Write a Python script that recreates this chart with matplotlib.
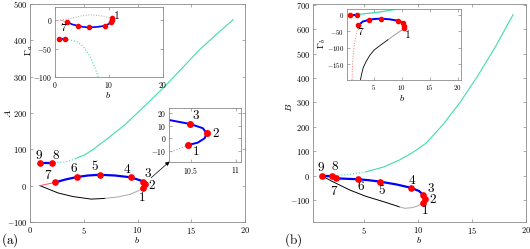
import matplotlib
matplotlib.use("Agg")
from matplotlib import pyplot as plt
from matplotlib.ticker import FuncFormatter

plt.rcParams['mathtext.fontset'] = 'cm'
plt.rcParams['font.family'] = 'DejaVu Serif'

# ---------------- data ----------------
# panel (a): A versus b
blue_a_b = [2.33, 3.3, 4.4, 5.4, 6.48, 7.9, 9.37, 10.26, 10.497, 10.637, 10.678, 10.656, 10.58, 10.474]
blue_a_A = [9, 17, 24, 28, 30, 28, 23, 14.6, 11.4, 8, 4, 0, -3.5, -5.4]
pts_a_b = [10.474, 10.678, 10.497, 9.37, 6.48, 4.4, 2.33, 2.0, 0.93]   # points 1..9
pts_a_A = [-5.4, 4, 11.4, 23, 30, 24, 9, 63, 63]
black_a_b = [0.93, 1.6, 2.6, 4.0, 5.7, 7.0, 8.2, 9.3, 10.26, 10.474]
black_a_A = [0, -8, -20, -30, -37, -35, -31, -24, -11.5, -5.4]
red_a_b = [0.93, 2.33]
red_a_A = [0, 9]
cyan_a_b = [2.0, 2.8, 3.56, 4.3, 5.1, 5.9, 6.67, 7.1, 8.84, 10.7, 12.6, 14.2, 15.8, 17.4, 18.9]
cyan_a_A = [63, 64, 67, 75, 85, 100, 118, 127, 168, 220, 275, 325, 375, 418, 457]

# inset of (a): Gamma_a versus b
g_blue_b = [2.15, 3.2, 4.2, 5.2, 6.3, 7.8, 9.26, 10.3, 10.45, 10.62, 10.5]
g_blue_G = [-3.5, -7.5, -10, -12, -12.8, -12, -10, -5, -3, 0.5, 3]
g_pts_b = [10.5, 10.62, 10.45, 9.26, 6.3, 4.2, 2.15]   # points 1..7
g_pts_G = [3, 0.5, -3, -10, -12.8, -10, -3.5]
g_gray_b = [1.0, 2.5, 4.66, 6.5, 8.95, 10.2, 10.5]
g_gray_G = [0, 2, 7, 9.3, 7, 3.5, 3]
g_red_b = [0.98, 2.15]
g_red_G = [0, -3.5]
g_pair_b = [0.8, 1.9]
g_pair_G = [-33.7, -33.7]
g_cyan_b = [1.9, 2.8, 4.05, 5.27, 6.5, 7.42, 8.03, 8.5]
g_cyan_G = [-33.7, -35, -37.8, -46.6, -64, -84.4, -100, -115]

# panel (b): B versus b
blue_b_b = [2.4, 3.4, 4.47, 5.5, 6.47, 8.0, 9.38, 10.1, 10.5, 10.65, 10.7, 10.6, 10.45]
blue_b_B = [-11, -13, -15, -19, -24.5, -36, -50, -63, -79, -88, -97, -106, -113]
pts_b_b = [10.45, 10.7, 10.5, 9.38, 6.47, 4.47, 2.4, 2.1, 1.1]
pts_b_B = [-113, -97, -79, -50, -24.5, -15, -11, 0, 0]
black_b_b = [1.1, 2.0, 3.7, 5.2, 6.77, 8.3, 8.8, 9.5, 10.0, 10.45]
black_b_B = [0, -22, -59, -85, -106, -128, -134, -131, -124, -113]
red_b_b = [1.1, 2.4]
red_b_B = [0, -11]
cyan_b_b = [2.1, 3.5, 5.24, 6.8, 8.3, 9.6, 10.76, 12.3, 13.9, 15.5, 17.2, 18.8]
cyan_b_B = [0, 4, 16, 35, 64, 97, 133, 208, 300, 406, 530, 659]

# inset of (b): Gamma_b versus b
h_blue_b = [2.25, 3.0, 4.2, 5.2, 6.3, 7.8, 9.3, 10.2, 10.4, 10.4]
h_blue_G = [-32.4, -21, -15.2, -13, -12.2, -14, -18.2, -25, -33.4, -40.5]
h_pts_b = [10.4, 10.4, 10.2, 9.3, 6.3, 4.2, 2.25, 2.0, 0.81]
h_pts_G = [-40.5, -33.4, -25, -18.2, -12.2, -15.2, -32.4, 0, 0]
h_black_b = [10.4, 9.0, 7.5, 6.2, 5.1, 4.3, 3.6, 3.1, 2.85, 2.6]
h_black_G = [-42.5, -58, -76, -92, -106, -122, -142, -160, -177, -197]
h_red_b = [2.25, 1.9, 1.53, 1.22, 1.1]
h_red_G = [-32.4, -55, -86, -137, -197]
h_cyan_b = [2.0, 3.5, 5.7, 7.5, 9.3, 11.0]
h_cyan_G = [0, 3, 7, 12, 17, 22]

W, H = 530, 249
BLUE = '#0000ff'
RED = '#ff0000'
CYAN = '#3fdcb0'
GRAY = '#a8a8a8'
FRAME = '#8a8a8a'


def box(x0, y0, x1, y1):
    return [x0 / W, 1 - y1 / H, (x1 - x0) / W, (y1 - y0) / H]


def style(ax, fs=6):
    for s in ax.spines.values():
        s.set_color(FRAME)
        s.set_linewidth(0.6)
    ax.tick_params(direction='in', length=2.5, width=0.5, color=FRAME,
                   top=True, right=True, labelsize=fs, pad=2)
    fmt = FuncFormatter(lambda v, p: f'${v:g}$')
    ax.xaxis.set_major_formatter(fmt)
    ax.yaxis.set_major_formatter(fmt)


def label(ax, x, y, txt, dx, dy, fs=9.5):
    ax.annotate(f'${txt}$', (x, y), xytext=(dx, dy), textcoords='offset pixels',
                ha='center', va='center', fontsize=fs)


fig = plt.figure(figsize=(5.3, 2.49), dpi=100)

# ---------------- panel (a) ----------------
axA = fig.add_axes(box(30, 4, 245, 222))
axA.plot(cyan_a_b[:4], cyan_a_A[:4], ':', color=CYAN, lw=0.8)
axA.plot(cyan_a_b[3:], cyan_a_A[3:], '-', color=CYAN, lw=0.8)
axA.plot(black_a_b[:6], black_a_A[:6], '-', color='k', lw=0.7)
axA.plot(black_a_b[5:], black_a_A[5:], '-', color=GRAY, lw=0.7)
axA.plot(red_a_b, red_a_A, '-', color='#ff5050', lw=0.7)
axA.plot(blue_a_b, blue_a_A, '-', color=BLUE, lw=1.6)
axA.plot(pts_a_b[7:], pts_a_A[7:], '-', color=BLUE, lw=1.6)
axA.plot(pts_a_b, pts_a_A, 'o', color=RED, ms=3.8, ls='none')
axA.set_xlim(0, 20)
axA.set_ylim(-100, 500)
axA.set_xticks([0, 5, 10, 15, 20])
axA.set_yticks(range(-100, 501, 100))
style(axA)
offs_a = [(-1, -10), (7.6, -1.3), (4.7, 8), (-4, 7.7), (-4.7, 8.3),
          (-3.3, 8), (-6.7, 7.3), (4, 7.7), (-1, 7.7)]
for i, (x, y) in enumerate(zip(pts_a_b, pts_a_A)):
    label(axA, x, y, str(i + 1), *offs_a[i])
axA.annotate('', xy=(13.18, 71.6), xytext=(11.07, 16.5),
             arrowprops=dict(arrowstyle='-|>', lw=0.5, color='k', mutation_scale=6))

# inset: Gamma_a
insA1 = fig.add_axes(box(55, 7, 163, 77))
insA1.plot(g_gray_b, g_gray_G, ':', color=GRAY, lw=0.7)
insA1.plot(g_red_b, g_red_G, '-', color='#ff8080', lw=0.6)
insA1.plot(g_cyan_b, g_cyan_G, ':', color=CYAN, lw=0.8)
insA1.plot(g_blue_b, g_blue_G, '-', color=BLUE, lw=1.2)
insA1.plot(g_pair_b, g_pair_G, '-', color=BLUE, lw=1.2)
insA1.plot(g_pts_b, g_pts_G, 'o', color=RED, ms=3, ls='none')
insA1.plot(g_pair_b, g_pair_G, 'o', color=RED, ms=3, ls='none')
insA1.set_xlim(0, 20)
insA1.set_ylim(-100, 23)
insA1.set_xticks([0, 10, 20])
insA1.set_yticks([-100, -50, 0])
style(insA1, fs=5.5)
label(insA1, g_pts_b[0], g_pts_G[0], '1', 4.3, 3.3, fs=8.5)
label(insA1, g_pts_b[6], g_pts_G[6], '7', -3, -5.5, fs=8.5)

# inset: zoom near points 1-3
insA2 = fig.add_axes(box(169, 108, 241, 162))
insA2.plot(black_a_b, black_a_A, ':', color=GRAY, lw=0.8)
insA2.plot(blue_a_b, blue_a_A, '-', color=BLUE, lw=1.4)
insA2.plot(pts_a_b[:3], pts_a_A[:3], 'o', color=RED, ms=4, ls='none')
insA2.set_xlim(10.26, 11.06)
insA2.set_ylim(-19, 24.2)
insA2.set_xticks([10.5, 11])
insA2.set_yticks([-10, 0, 10, 20])
style(insA2, fs=5.5)
for i, (dx, dy) in enumerate([(7.3, -6.7), (9.7, 0), (5.3, 9)]):
    label(insA2, pts_a_b[i], pts_a_A[i], str(i + 1), dx, dy)

# ---------------- panel (b) ----------------
axB = fig.add_axes(box(313, 4, 526, 222))
axB.plot(cyan_b_b[:3], cyan_b_B[:3], ':', color=CYAN, lw=0.8)
axB.plot(cyan_b_b[2:], cyan_b_B[2:], '-', color=CYAN, lw=0.8)
axB.plot(black_b_b[:6], black_b_B[:6], '-', color='k', lw=0.7)
axB.plot(black_b_b[5:], black_b_B[5:], '-', color=GRAY, lw=0.7)
axB.plot(red_b_b, red_b_B, '-', color='#ff5050', lw=0.7)
axB.plot(blue_b_b, blue_b_B, '-', color=BLUE, lw=1.6)
axB.plot(pts_b_b[7:], pts_b_B[7:], '-', color=BLUE, lw=1.6)
axB.plot(pts_b_b, pts_b_B, 'o', color=RED, ms=3.8, ls='none')
axB.set_xlim(0.3, 20)
axB.set_ylim(-190, 703)
axB.set_xticks([5, 10, 15, 20])
axB.set_yticks(range(-100, 701, 100))
style(axB)
offs_b = [(1.7, -7.7), (7, -0.7), (7.7, 6.7), (1, 7.7), (2.3, -8.3),
          (3.4, -7.4), (-1.4, -13.4), (2.3, 9), (-1, 7.7)]
for i, (x, y) in enumerate(zip(pts_b_b, pts_b_B)):
    label(axB, x, y, str(i + 1), *offs_b[i])

# inset: Gamma_b
insB = fig.add_axes(box(347, 9, 461, 80))
insB.plot(h_black_b[:3], h_black_G[:3], '-', color='#909090', lw=0.6)
insB.plot(h_black_b[2:], h_black_G[2:], '-', color='k', lw=0.6)
insB.plot(h_red_b, h_red_G, ':', color='#ff7070', lw=0.7)
insB.plot(h_cyan_b, h_cyan_G, '-', color=CYAN, lw=0.9)
insB.plot(h_blue_b, h_blue_G, '-', color=BLUE, lw=1.4)
insB.plot(h_pts_b[7:], h_pts_G[7:], '-', color=BLUE, lw=1.4)
insB.plot(h_pts_b, h_pts_G, 'o', color=RED, ms=3, ls='none')
insB.set_xlim(0.2, 20.6)
insB.set_ylim(-197, 17)
insB.set_xticks([5, 10, 15, 20])
insB.set_yticks([-150, -100, -50, 0])
style(insB, fs=5)
label(insB, h_pts_b[0], h_pts_G[0], '1', 3.4, -6.7, fs=8.5)
label(insB, h_pts_b[6], h_pts_G[6], '7', 2.7, -6, fs=8.5)

# ---------------- axis and panel labels ----------------
def ftext(x, y, s, fs=7, rot=0, ha='center'):
    fig.text(x / W, 1 - y / H, s, fontsize=fs, rotation=rot, ha=ha, va='center')

ftext(137, 240, '$b$')
ftext(419, 240, '$b$')
ftext(8, 113, '$A$', rot=90)
ftext(289, 107, '$B$', rot=90)
ftext(108, 95, '$b$')
ftext(402, 98, '$b$')
ftext(29, 50, r'$\Gamma_a$', rot=90)
ftext(322, 43, r'$\Gamma_b$', rot=90)
ftext(1, 240, r'$\mathrm{(a)}$', fs=9.5, ha='left')
ftext(284, 240, r'$\mathrm{(b)}$', fs=9.5, ha='left')

fig.savefig('out.png', dpi=100)
